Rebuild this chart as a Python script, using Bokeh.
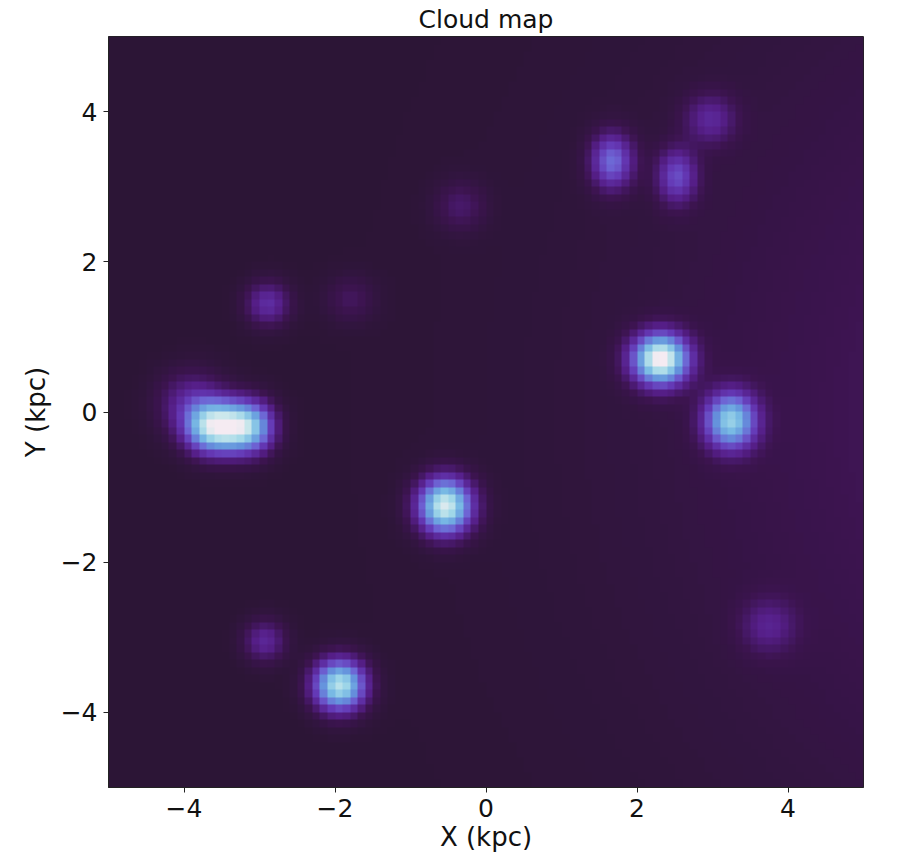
import numpy as np
from bokeh.plotting import figure
from bokeh.models import Range1d, LinearColorMapper, FixedTicker
from bokeh.embed import file_html
from bokeh.resources import INLINE

# Cloud catalogue: centre (kpc), normalised peak brightness, widths (kpc)
cloud_x = [-3.70, -3.40, -3.10, -3.90, 2.31, 3.24, -0.54, -1.94, -2.93,
           -2.89, -1.80, -0.34, 1.67, 2.53, 2.97, 3.74]
cloud_y = [-0.20, -0.20, -0.20, 0.10, 0.70, -0.12, -1.25, -3.64, -3.05,
           1.44, 1.50, 2.74, 3.34, 3.14, 3.90, -2.85]
cloud_peak = [0.60, 0.60, 0.60, 0.22, 1.00, 0.72, 0.92, 0.85, 0.22,
              0.25, 0.10, 0.12, 0.42, 0.33, 0.20, 0.16]
cloud_sx = [0.21, 0.21, 0.21, 0.30, 0.25, 0.23, 0.24, 0.23, 0.19,
            0.20, 0.23, 0.23, 0.19, 0.18, 0.23, 0.25]
cloud_sy = [0.23, 0.23, 0.23, 0.30, 0.23, 0.25, 0.25, 0.23, 0.19,
            0.20, 0.21, 0.23, 0.25, 0.25, 0.23, 0.25]

# Diffuse large-scale emission rising towards the right-hand edge
halo_x = [9.0]
halo_y = [0.0]
halo_peak = [0.15]
halo_sigma = [4.0]

grid_n = 100
extent = [-5.0, 5.0]
tick_values = [-4, -2, 0, 2, 4]
tick_labels = ["\u22124", "\u22122", "0", "2", "4"]

# Build the brightness map on a regular grid of cell centres
step = (extent[1] - extent[0]) / grid_n
centres = extent[0] + (np.arange(grid_n) + 0.5) * step
gx, gy = np.meshgrid(centres, centres)
density = np.zeros_like(gx)
for cx, cy, a, sx, sy in zip(cloud_x, cloud_y, cloud_peak, cloud_sx, cloud_sy):
    density += a * np.exp(-((gx - cx) ** 2 / (2 * sx ** 2) + (gy - cy) ** 2 / (2 * sy ** 2)))
for cx, cy, a, s in zip(halo_x, halo_y, halo_peak, halo_sigma):
    density += a * np.exp(-((gx - cx) ** 2 + (gy - cy) ** 2) / (2 * s ** 2))
density = np.clip(density, 0, 1)

# Dark purple -> violet -> blue -> cyan -> white colour ramp
stops = [0.00, 0.08, 0.18, 0.30, 0.42, 0.55, 0.68, 0.80, 0.90, 1.00]
stop_rgb = [(44, 21, 54), (60, 20, 80), (85, 30, 135), (100, 55, 180),
            (110, 100, 212), (100, 145, 220), (120, 185, 228), (160, 215, 232),
            (205, 232, 236), (245, 235, 242)]
t = np.linspace(0, 1, 256)
chan = [np.interp(t, stops, [c[k] for c in stop_rgb]) for k in range(3)]
palette = ["#%02x%02x%02x" % (int(round(r)), int(round(g)), int(round(b)))
           for r, g, b in zip(*chan)]
mapper = LinearColorMapper(palette=palette, low=0, high=1)

font = "DejaVu Sans"
p = figure(width=921, height=859, title="Cloud map",
           x_range=Range1d(*extent), y_range=Range1d(*extent),
           output_backend="svg", toolbar_location=None,
           min_border_left=108, min_border_right=58,
           min_border_top=34, min_border_bottom=72)

p.image(image=[density], x=extent[0], y=extent[0],
        dw=extent[1] - extent[0], dh=extent[1] - extent[0], color_mapper=mapper)

p.grid.visible = False
p.outline_line_color = "#222222"
p.outline_line_width = 1
p.background_fill_color = "white"
p.border_fill_color = "white"

p.title.text_font = font
p.title.text_font_size = "25px"
p.title.text_font_style = "normal"
p.title.text_color = "#111111"
p.title.align = "center"
p.title.standoff = 5

for ax in (p.xaxis[0], p.yaxis[0]):
    ax.ticker = FixedTicker(ticks=tick_values)
    ax.major_label_overrides = {v: s for v, s in zip(tick_values, tick_labels)}
    ax.major_label_text_font = font
    ax.major_label_text_font_size = "25px"
    ax.major_label_text_color = "#111111"
    ax.axis_label_text_font = font
    ax.axis_label_text_font_size = "26px"
    ax.axis_label_text_font_style = "normal"
    ax.axis_label_text_color = "#111111"
    ax.major_tick_out = 5
    ax.major_tick_in = 0
    ax.minor_tick_out = 0
    ax.minor_tick_in = 0
    ax.axis_line_color = "#222222"
    ax.major_tick_line_color = "#222222"

p.xaxis.axis_label = "X (kpc)"
p.yaxis.axis_label = "Y (kpc)"
p.xaxis.major_label_standoff = 6
p.yaxis.major_label_standoff = 6
p.xaxis.axis_label_standoff = 2
p.yaxis.axis_label_standoff = 7

open("out.html", "w").write(file_html(p, INLINE))
